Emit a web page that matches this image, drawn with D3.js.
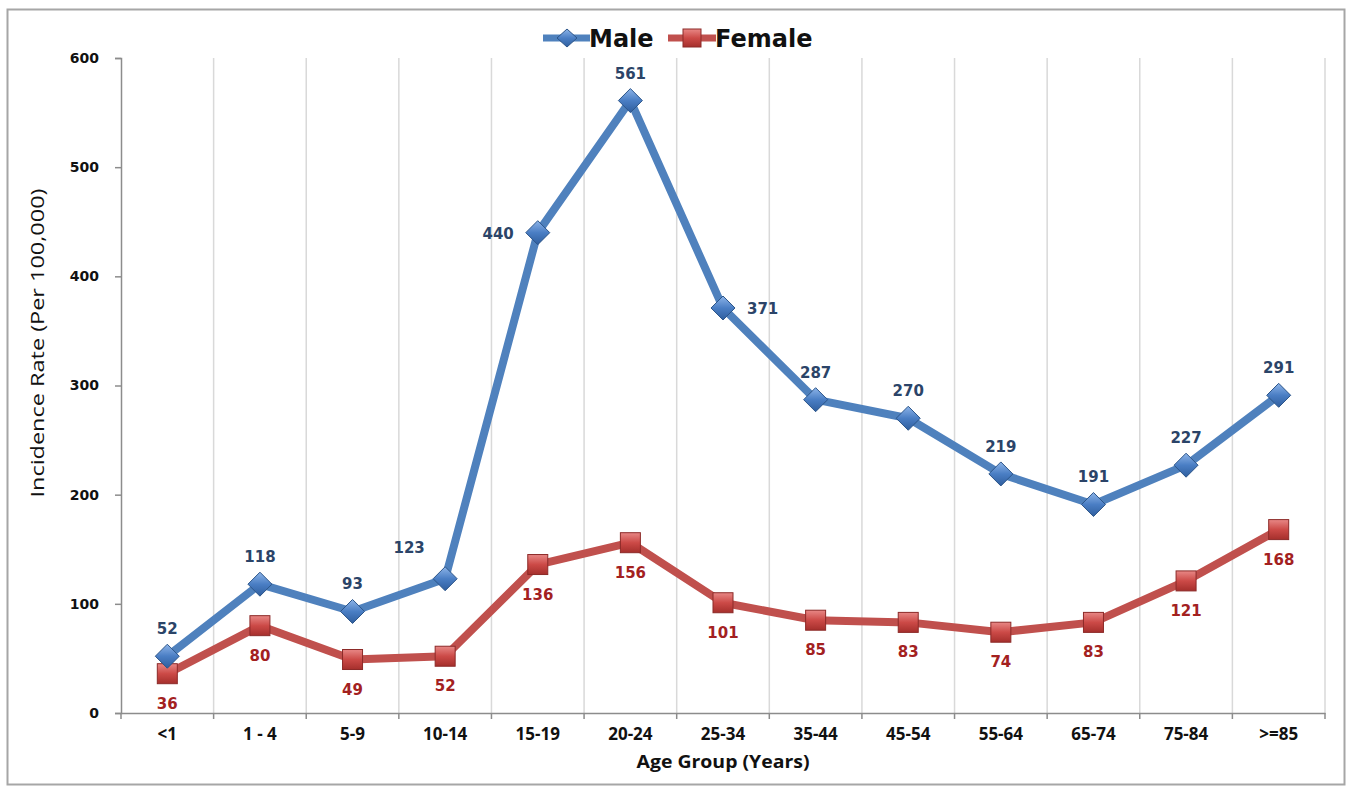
<!DOCTYPE html>
<html><head><meta charset="utf-8">
<script src="https://cdn.jsdelivr.net/npm/d3@7/dist/d3.min.js"></script>
<style>body{margin:0;background:#fff;} svg{display:block;}</style>
</head><body>
<svg id="c" width="1351" height="787"></svg>
<script>
const categories = ["<1","1 - 4","5-9","10-14","15-19","20-24","25-34","35-44","45-54","55-64","65-74","75-84",">=85"];
const maleValues = [52,118,93,123,440,561,371,287,270,219,191,227,291];
const femaleValues = [36,80,49,52,136,156,101,85,83,74,83,121,168];
const yTicks = [0,100,200,300,400,500,600];
// label placement for male values: "above", "left", "right", "upleft"
const malePlacement = ["above","above","above","upleft","left","above","right","above","above","above","above","above","above"];

const svg = d3.select("#c");
const m = {left:121, right:1325, top:58, bottom:713};

const defs = svg.append("defs");
const gb = defs.append("linearGradient").attr("id","gBlue").attr("x1",0).attr("y1",0).attr("x2",0).attr("y2",1);
gb.append("stop").attr("offset","0%").attr("stop-color","#8db4e8");
gb.append("stop").attr("offset","50%").attr("stop-color","#4a7ec4");
gb.append("stop").attr("offset","100%").attr("stop-color","#2f5e9e");
const gr = defs.append("linearGradient").attr("id","gRed").attr("x1",0).attr("y1",0).attr("x2",0).attr("y2",1);
gr.append("stop").attr("offset","0%").attr("stop-color","#e88886");
gr.append("stop").attr("offset","50%").attr("stop-color","#cc4a47");
gr.append("stop").attr("offset","100%").attr("stop-color","#a52f2c");

// outer border
svg.append("rect").attr("x",7.5).attr("y",9.5).attr("width",1337).attr("height",775)
  .attr("fill","#fff").attr("stroke","#a6a6a6").attr("stroke-width",2);

const x = d3.scaleBand().domain(categories).range([m.left, m.right]);
const y = d3.scaleLinear().domain([0,600]).range([m.bottom, m.top]);
const cx = d => x(d) + x.bandwidth()/2;

// vertical gridlines at band boundaries
const bounds = categories.map(c => x(c) + x.bandwidth());
svg.append("g").selectAll("line").data(bounds).join("line")
  .attr("x1",d=>d).attr("x2",d=>d).attr("y1",m.top).attr("y2",m.bottom)
  .attr("stroke","#d9d9d9").attr("stroke-width",1.5);

// y axis
const yAxis = svg.append("g").attr("transform",`translate(${m.left},0)`)
  .call(d3.axisLeft(y).tickValues(yTicks).tickSize(6).tickPadding(16));
yAxis.select(".domain").attr("stroke","#8c8c8c").attr("stroke-width",1.5);
yAxis.selectAll(".tick line").attr("stroke","#8c8c8c").attr("stroke-width",1.5);
yAxis.selectAll(".tick text").style("font-family","'DejaVu Sans', Verdana, sans-serif")
  .style("font-weight","bold").style("font-size","14px").attr("fill","#111");

// x axis
const xAxis = svg.append("g").attr("transform",`translate(0,${m.bottom})`)
  .call(d3.axisBottom(x).tickSize(0).tickPadding(15));
xAxis.select(".domain").attr("stroke","#8c8c8c").attr("stroke-width",1.5);
xAxis.selectAll(".tick text").style("font-family","'Open Sans', Lato, sans-serif")
  .style("font-weight","bold").style("font-size","17px").attr("fill","#111");
// x tick marks at boundaries
svg.append("g").selectAll("line").data([m.left].concat(bounds)).join("line")
  .attr("x1",d=>d).attr("x2",d=>d).attr("y1",m.bottom).attr("y2",m.bottom+6)
  .attr("stroke","#8c8c8c").attr("stroke-width",1.5);

// axis titles
svg.append("text").attr("x",723).attr("y",768).attr("text-anchor","middle")
  .style("font-family","'Open Sans', Lato, sans-serif").style("font-weight","bold").style("font-size","18px")
  .attr("fill","#111").attr("textLength",173).attr("lengthAdjust","spacingAndGlyphs").text("Age Group (Years)");
svg.append("text").attr("transform",`translate(44,343) rotate(-90)`)
  .attr("text-anchor","middle").style("font-family","'Open Sans',Roboto,sans-serif")
  .style("font-size","19px").attr("fill","#111").attr("textLength",309).attr("lengthAdjust","spacingAndGlyphs")
  .text("Incidence Rate (Per 100,000)");

const line = d3.line().x((d,i)=>cx(categories[i])).y(d=>y(d));

function drawSeries(vals, color, edge, grad, shape){
  svg.append("path").datum(vals).attr("d",line).attr("fill","none")
    .attr("stroke",color).attr("stroke-width",8).attr("stroke-linejoin","round");
  const g = svg.append("g");
  vals.forEach((v,i)=>{
    const px = cx(categories[i]), py = y(v);
    if(shape==="diamond"){
      g.append("path").attr("d",`M${px},${py-12}L${px+12},${py}L${px},${py+12}L${px-12},${py}Z`)
        .attr("fill",`url(#${grad})`).attr("stroke",edge).attr("stroke-width",1);
    } else {
      g.append("rect").attr("x",px-10).attr("y",py-10).attr("width",20).attr("height",20)
        .attr("fill",`url(#${grad})`).attr("stroke",edge).attr("stroke-width",1);
    }
  });
}
drawSeries(femaleValues,"#c0504d","#8c2a28","gRed","square");
drawSeries(maleValues,"#4f81bd","#2c5589","gBlue","diamond");

// data labels
const lblFont = "'DejaVu Sans', Verdana, sans-serif";
svg.append("g").selectAll("text").data(maleValues).join("text")
  .attr("x",(d,i)=>{const p=malePlacement[i], px=cx(categories[i]);
     return p==="left"?px-24:p==="right"?px+24:p==="upleft"?px-36:px;})
  .attr("y",(d,i)=>{const p=malePlacement[i], py=y(d);
     return p==="left"||p==="right"?py+6:p==="upleft"?py-26:py-22;})
  .attr("text-anchor",(d,i)=>{const p=malePlacement[i];return p==="left"?"end":p==="right"?"start":"middle";})
  .style("font-family",lblFont).style("font-weight","bold").style("font-size","15px").attr("fill","#2b4468")
  .text(d=>d);
svg.append("g").selectAll("text").data(femaleValues).join("text")
  .attr("x",(d,i)=>cx(categories[i])).attr("y",d=>y(d)+35)
  .attr("text-anchor","middle").style("font-family",lblFont).style("font-weight","bold")
  .style("font-size","15px").attr("fill","#a3211f").text(d=>d);

// legend
const lg = svg.append("g");
lg.append("line").attr("x1",543).attr("x2",590).attr("y1",38).attr("y2",38).attr("stroke","#4f81bd").attr("stroke-width",7);
lg.append("path").attr("d","M567,29L577,38L567,47L557,38Z").attr("fill","url(#gBlue)").attr("stroke","#2c5589");
lg.append("text").attr("x",589).attr("y",47).style("font-family",lblFont).style("font-weight","bold")
  .style("font-size","24px").attr("fill","#111").text("Male");
lg.append("line").attr("x1",668).attr("x2",716).attr("y1",38).attr("y2",38).attr("stroke","#c0504d").attr("stroke-width",7);
lg.append("rect").attr("x",683).attr("y",29).attr("width",18).attr("height",18).attr("fill","url(#gRed)").attr("stroke","#8c2a28");
lg.append("text").attr("x",715).attr("y",47).style("font-family",lblFont).style("font-weight","bold")
  .style("font-size","24px").attr("fill","#111").text("Female");
</script>
</body></html>
